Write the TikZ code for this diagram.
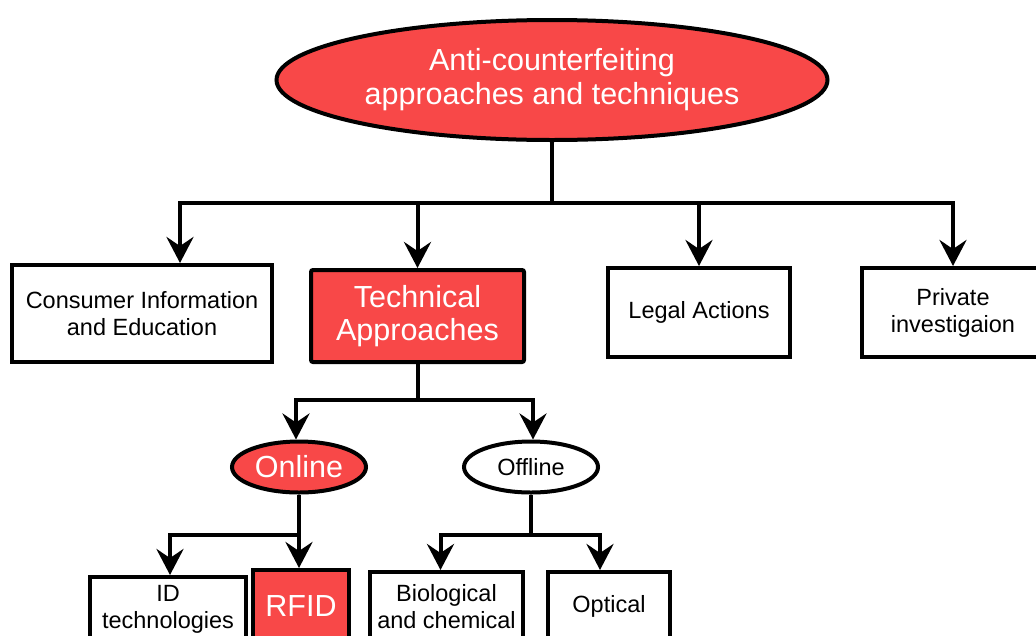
\documentclass[tikz,border=0pt]{standalone}
\usepackage{fontspec}
\setmainfont{Liberation Sans}
\usetikzlibrary{arrows.meta,shapes.geometric}
\definecolor{redfill}{RGB}{248,72,72}
\tikzset{
  base/.style={draw=black, line width=4pt, inner sep=0pt, align=center, text=black},
  box/.style={base, rectangle, fill=white, font=\fontsize{23.5}{27}\selectfont},
  redbox/.style={base, rectangle, fill=redfill, text=white, rounded corners=2pt, font=\fontsize{30.5}{33}\selectfont},
  oval/.style={base, ellipse, fill=white, font=\fontsize{23.5}{27}\selectfont},
  redoval/.style={base, ellipse, fill=redfill, text=white, font=\fontsize{30.5}{34}\selectfont},
  link/.style={line width=4pt, draw=black},
  arr/.style={link, -{Stealth[length=26pt, width=27pt, inset=9pt]}},
}
\begin{document}
\begin{tikzpicture}[x=1pt,y=-1pt]
\useasboundingbox (0,0) rectangle (1036,635);
\clip (0,0) rectangle (1036,635);
\fill[white] (0,0) rectangle (1036,635);

\node[redoval, minimum width=551pt, minimum height=120pt] (top) at (552,80) {Anti-counterfeiting\\approaches and techniques};

\node[box, minimum width=260pt, minimum height=97pt] (cons) at (142,313.5) {Consumer Information\\and Education};
\node[redbox, minimum width=213pt, minimum height=92pt] (tech) at (417.5,316) {Technical\\Approaches};
\node[box, minimum width=182pt, minimum height=89pt] (legal) at (699,312.5) {Legal Actions};
\node[box, minimum width=182pt, minimum height=89pt] (priv) at (953,312.5) {Private\\investigaion};

\node[redoval, minimum width=134pt, minimum height=51pt] (online) at (299,467) {Online};
\node[oval, minimum width=134pt, minimum height=51pt] (offline) at (531,467) {Offline};

\node[box, minimum width=156pt, minimum height=64pt] (idt) at (168,609) {ID\\technologies};
\node[redbox, rounded corners=0pt, minimum width=96pt, minimum height=71pt] (rfid) at (301,605.5) {RFID};
\node[box, minimum width=153pt, minimum height=69pt] (bio) at (446.5,606.5) {Biological\\and chemical};
\node[box, minimum width=122pt, minimum height=69pt] (opt) at (609,606.5) {Optical};

% level 1 connectors
\coordinate (j1) at (552,203);
\draw[link] (top.south) -- (j1);
\draw[arr] (j1) -| ([xshift=38pt]cons.north);
\draw[arr] (j1) -| (tech.north);
\draw[arr] (j1) -| (legal.north);
\draw[arr] (j1) -| (priv.north);

% technical -> online / offline
\coordinate (j2) at (417.5,400);
\draw[link] (tech.south) -- (j2);
\draw[arr] (j2) -| ([xshift=-3pt]online.north);
\draw[arr] (j2) -| ([xshift=2pt]offline.north);

% online -> id / rfid
\coordinate (j3) at (299,535);
\draw[link] (online.south) -- (j3);
\draw[arr] (j3) -| ([xshift=2pt]idt.north);
\draw[arr] (j3) -| ([xshift=-2pt]rfid.north);

% offline -> bio / optical
\coordinate (j4) at (531,535);
\draw[link] (offline.south) -- (j4);
\draw[arr] (j4) -| ([xshift=-6pt]bio.north);
\draw[arr] (j4) -| ([xshift=-9pt]opt.north);
\end{tikzpicture}
\end{document}
